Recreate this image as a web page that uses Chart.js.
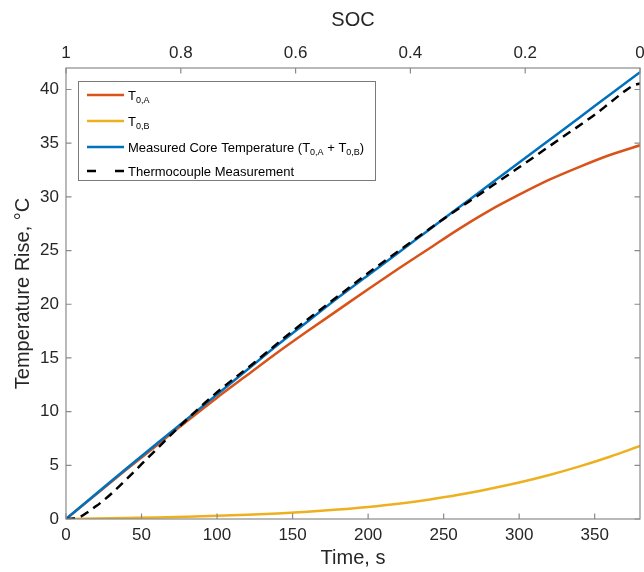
<!DOCTYPE html>
<html>
<head>
<meta charset="utf-8">
<script src="https://cdn.jsdelivr.net/npm/chart.js@4.4.1/dist/chart.umd.min.js"></script>
<style>
  html, body { margin: 0; padding: 0; background: #fff; }
  #wrap { width: 644px; height: 572px; }
</style>
</head>
<body>
<div id="wrap"><canvas id="chart" width="644" height="572"></canvas></div>
<script>
// ---- Data ----
const timeModel = [0, 20, 40, 60, 80, 100, 120, 140, 160, 180, 200, 220, 240, 260, 280, 300, 320, 340, 360, 380];
const t0A       = [0, 2.3, 4.6, 6.85, 9.1, 11.3, 13.4, 15.5, 17.5, 19.45, 21.4, 23.3, 25.15, 27.0, 28.7, 30.2, 31.6, 32.8, 33.9, 34.8];
const t0B       = [0, 0.05, 0.1, 0.15, 0.22, 0.3, 0.4, 0.52, 0.68, 0.88, 1.12, 1.42, 1.8, 2.25, 2.8, 3.4, 4.1, 4.9, 5.8, 6.8];
const coreTemp  = [0, 2.35, 4.7, 7.0, 9.3, 11.6, 13.9, 16.2, 18.4, 20.6, 22.7, 24.8, 26.9, 29.0, 31.1, 33.2, 35.3, 37.4, 39.5, 41.6];

const timeTC       = [0, 5, 10, 15, 20, 25, 30, 40, 50, 60, 75, 100, 125, 150, 175, 200, 225, 250, 275, 300, 325, 350, 360, 370, 376, 380];
const thermocouple = [0, 0.05, 0.25, 0.7, 1.2, 1.75, 2.35, 3.7, 5.1, 6.5, 8.6, 11.8, 14.6, 17.5, 20.2, 22.9, 25.45, 27.95, 30.35, 32.75, 35.2, 37.65, 38.75, 39.85, 40.4, 40.55];

// legend text: [text, isSubscript]
const legendRows = [
    [['T', false], ['0,A', true]],
    [['T', false], ['0,B', true]],
    [['Measured Core Temperature (T', false], ['0,A', true], [' + T', false], ['0,B', true], [')', false]],
    [['Thermocouple Measurement', false]],
];

// ---- Styles ----
const FONT = '"Liberation Sans", Arial, Helvetica, sans-serif';
const TEXT_COLOR = '#262626';
const AXIS_COLOR = '#8a8a8a';
const COLORS = ['#D95319', '#EDB120', '#0072BD', '#000000'];

Chart.defaults.font.family = FONT;
Chart.defaults.color = TEXT_COLOR;

const pts = (xs, ys) => xs.map((x, i) => ({ x, y: ys[i] }));

function lineSet(label, data, color, order, dash) {
    return {
        label, data, order,
        borderColor: color,
        borderWidth: 2.5,
        borderDash: dash || [],
        pointRadius: 0,
        fill: false,
        cubicInterpolationMode: 'monotone',
    };
}

// no extra room for edge tick labels (the top "0" is allowed to hang off the edge)
const noEdgePad = s => { s.paddingLeft = 0; s.paddingRight = 0; };

// ---- Axis frame, inward ticks and legend ----
const frameAndLegend = {
    id: 'frameAndLegend',
    afterDatasetsDraw(chart) {
        const { ctx, chartArea: a, scales } = chart;
        const tl = 5.5;
        ctx.save();
        ctx.strokeStyle = AXIS_COLOR;
        ctx.lineWidth = 1.2;
        ctx.strokeRect(a.left, a.top, a.right - a.left, a.bottom - a.top);

        ctx.beginPath();
        scales.x.ticks.forEach(t => {
            const px = scales.x.getPixelForValue(t.value);
            ctx.moveTo(px, a.bottom); ctx.lineTo(px, a.bottom - tl);
        });
        scales.x2.ticks.forEach(t => {
            const px = scales.x2.getPixelForValue(t.value);
            ctx.moveTo(px, a.top); ctx.lineTo(px, a.top + tl);
        });
        scales.y.ticks.forEach(t => {
            const py = scales.y.getPixelForValue(t.value);
            ctx.moveTo(a.left, py); ctx.lineTo(a.left + tl, py);
            ctx.moveTo(a.right, py); ctx.lineTo(a.right - tl, py);
        });
        ctx.stroke();

        // legend box
        const bx = a.left + 12, by = a.top + 13, bw = 297, bh = 99;
        ctx.fillStyle = '#fff';
        ctx.fillRect(bx, by, bw, bh);
        ctx.strokeStyle = '#7a7a7a';
        ctx.lineWidth = 1;
        ctx.strokeRect(bx + 0.5, by + 0.5, bw, bh);

        const rowY = [by + 14, by + 40, by + 66, by + 90];
        const x0 = bx + 9, x1 = bx + 46, tx = bx + 50;
        legendRows.forEach((segs, i) => {
            const cy = rowY[i];
            ctx.strokeStyle = COLORS[i];
            ctx.lineWidth = 2.5;
            ctx.beginPath();
            if (i === 3) {
                ctx.moveTo(x0, cy); ctx.lineTo(x0 + 9, cy);
                ctx.moveTo(x1 - 9, cy); ctx.lineTo(x1, cy);
            } else {
                ctx.moveTo(x0, cy); ctx.lineTo(x1, cy);
            }
            ctx.stroke();

            let x = tx;
            const base = cy + 4.7;
            ctx.fillStyle = '#000';
            ctx.textBaseline = 'alphabetic';
            segs.forEach(([txt, sub]) => {
                ctx.font = (sub ? '9px ' : '13px ') + FONT;
                ctx.fillText(txt, x, sub ? base + 3.5 : base);
                x += ctx.measureText(txt).width;
            });
        });
        ctx.restore();
    },
};

new Chart(document.getElementById('chart'), {
    type: 'line',
    data: {
        datasets: [
            lineSet('T0,A', pts(timeModel, t0A), COLORS[0], 4),
            lineSet('T0,B', pts(timeModel, t0B), COLORS[1], 3),
            lineSet('Measured Core Temperature (T0,A + T0,B)', pts(timeModel, coreTemp), COLORS[2], 2),
            lineSet('Thermocouple Measurement', pts(timeTC, thermocouple), COLORS[3], 1, [9, 6]),
        ],
    },
    options: {
        responsive: false,
        animation: false,
        layout: { padding: { left: 0, right: 4, top: 0, bottom: 0 } },
        plugins: {
            legend: { display: false },
            tooltip: { enabled: false },
        },
        scales: {
            x: {
                type: 'linear',
                position: 'bottom',
                min: 0, max: 380,
                ticks: { stepSize: 50, includeBounds: false, font: { size: 17 }, padding: 6, maxRotation: 0 },
                grid: { display: false, drawTicks: false },
                border: { display: false },
                title: { display: true, text: 'Time, s', font: { size: 20 }, padding: { top: 0, bottom: 2 } },
                afterFit: s => { s.height = 53; noEdgePad(s); },
            },
            x2: {
                type: 'linear',
                axis: 'x',
                position: 'top',
                min: 0, max: 1,
                reverse: true,
                ticks: {
                    stepSize: 0.2, font: { size: 17 }, padding: 4, maxRotation: 0,
                    callback: v => String(Number(v.toFixed(1))),
                },
                grid: { display: false, drawTicks: false },
                border: { display: false },
                title: { display: true, text: 'SOC', font: { size: 20 }, padding: { top: 8, bottom: 0 } },
                afterFit: s => { s.height = 68; noEdgePad(s); },
            },
            y: {
                type: 'linear',
                position: 'left',
                min: 0, max: 42,
                ticks: { stepSize: 5, includeBounds: false, font: { size: 17 }, padding: 7 },
                grid: { display: false, drawTicks: false },
                border: { display: false },
                title: { display: true, text: 'Temperature Rise, °C', font: { size: 20 }, padding: { top: 11, bottom: 0 } },
                afterFit: s => { s.width = 66; },
            },
        },
    },
    plugins: [frameAndLegend],
});
</script>
</body>
</html>
